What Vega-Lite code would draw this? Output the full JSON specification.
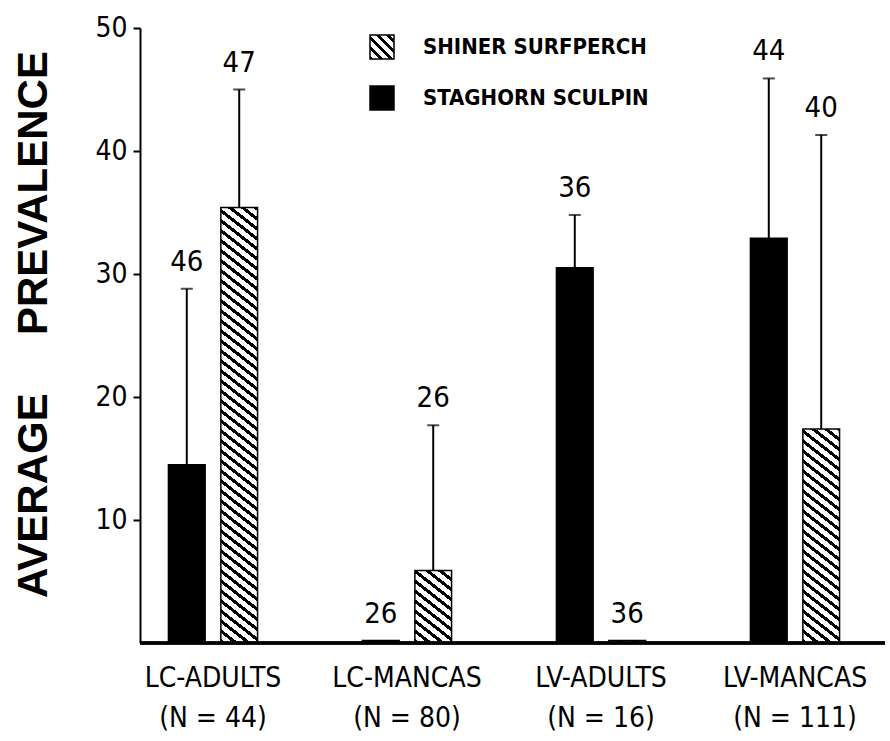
{
"$schema": "https://vega.github.io/schema/vega-lite/v6.json",
"width": 745, "height": 615, "autosize": "none",
"padding": {"left": 140, "top": 28, "right": 5, "bottom": 98},
"background": "white",
"config": {"view": {"stroke": null}},
"data": {"values": [
{"group": "LC-ADULTS|(N = 44)", "species": "STAGHORN SCULPIN", "value": 14.5, "upper": 28.8, "n": "46"},
{"group": "LC-ADULTS|(N = 44)", "species": "SHINER SURFPERCH", "value": 35.4, "upper": 45.0, "n": "47"},
{"group": "LC-MANCAS|(N = 80)", "species": "STAGHORN SCULPIN", "value": 0.2, "upper": 0.2, "n": "26"},
{"group": "LC-MANCAS|(N = 80)", "species": "SHINER SURFPERCH", "value": 5.9, "upper": 17.7, "n": "26"},
{"group": "LV-ADULTS|(N = 16)", "species": "STAGHORN SCULPIN", "value": 30.5, "upper": 34.8, "n": "36"},
{"group": "LV-ADULTS|(N = 16)", "species": "SHINER SURFPERCH", "value": 0.2, "upper": 0.2, "n": "36"},
{"group": "LV-MANCAS|(N = 111)", "species": "STAGHORN SCULPIN", "value": 32.9, "upper": 45.9, "n": "44"},
{"group": "LV-MANCAS|(N = 111)", "species": "SHINER SURFPERCH", "value": 17.4, "upper": 41.3, "n": "40"}
]},
"layer": [
{
"mark": {"type": "bar", "stroke": "#000", "strokeWidth": 1.5},
"encoding": {
"x": {"field": "group", "type": "nominal", "sort": null, "scale": {"range": [-24, 752], "paddingInner": 0, "paddingOuter": 0},
 "axis": {"title": null, "domain": false, "ticks": false, "labelAngle": 0, "labelExpr": "split(datum.label, '|')", "labelFont": "DejaVu Sans Condensed", "labelFontSize": 28, "labelLineHeight": 40, "labelPadding": 21, "labelColor": "#000"}},
"xOffset": {"field": "species", "type": "nominal", "sort": ["STAGHORN SCULPIN", "SHINER SURFPERCH"], "scale": {"paddingInner": 0.3, "paddingOuter": 1.516}},
"y": {"field": "value", "type": "quantitative", "scale": {"domain": [0, 50], "nice": false},
 "axis": {"values": [10, 20, 30, 40, 50], "title": "AVERAGE\u00a0\u00a0\u00a0\u00a0 PREVALENCE", "titleFont": "Liberation Sans", "titleFontWeight": "bold", "titleFontSize": 42, "titleAngle": -90, "titleX": -107, "titleY": 296, "titleAlign": "center", "titleBaseline": "middle", "titleColor": "#000", "titleLimit": 0, "labelFont": "DejaVu Sans Condensed", "labelFontSize": 28, "labelColor": "#000", "tickColor": "#000", "tickSize": 7, "tickWidth": 2, "labelPadding": 6, "domainColor": "#000", "domainWidth": 2, "grid": false}},
"fill": {"field": "species", "type": "nominal",
 "scale": {"domain": ["SHINER SURFPERCH", "STAGHORN SCULPIN"], "range": ["url(#gradient_2)", "#000"]},
 "legend": {"orient": "none", "legendX": 229, "legendY": 6, "title": null, "symbolType": "square", "symbolSize": 576, "symbolStrokeColor": "#000", "symbolStrokeWidth": 1.5, "labelFont": "DejaVu Sans Condensed", "labelFontSize": 22, "labelFontWeight": "bold", "labelColor": "#000", "labelLimit": 0, "labelOffset": 28, "rowPadding": 21, "padding": 0},
 "condition": [
  {"test": "datum.species === 'SHINER SURFPERCH' && datum.group === 'LC-ADULTS|(N = 44)'", "value": {"gradient": "linear", "x1": 0, "y1": 1, "x2": 0.151, "y2": -1.289, "stops": [
{"offset":0,"color":"#000"},{"offset":0.004,"color":"#000"},{"offset":0.004,"color":"#fff"},{"offset":0.01,"color":"#fff"},
{"offset":0.01,"color":"#000"},{"offset":0.014,"color":"#000"},{"offset":0.014,"color":"#fff"},{"offset":0.02,"color":"#fff"},
{"offset":0.02,"color":"#000"},{"offset":0.024,"color":"#000"},{"offset":0.024,"color":"#fff"},{"offset":0.03,"color":"#fff"},
{"offset":0.03,"color":"#000"},{"offset":0.034,"color":"#000"},{"offset":0.034,"color":"#fff"},{"offset":0.04,"color":"#fff"},
{"offset":0.04,"color":"#000"},{"offset":0.044,"color":"#000"},{"offset":0.044,"color":"#fff"},{"offset":0.05,"color":"#fff"},
{"offset":0.05,"color":"#000"},{"offset":0.054,"color":"#000"},{"offset":0.054,"color":"#fff"},{"offset":0.06,"color":"#fff"},
{"offset":0.06,"color":"#000"},{"offset":0.064,"color":"#000"},{"offset":0.064,"color":"#fff"},{"offset":0.07,"color":"#fff"},
{"offset":0.07,"color":"#000"},{"offset":0.074,"color":"#000"},{"offset":0.074,"color":"#fff"},{"offset":0.08,"color":"#fff"},
{"offset":0.08,"color":"#000"},{"offset":0.084,"color":"#000"},{"offset":0.084,"color":"#fff"},{"offset":0.09,"color":"#fff"},
{"offset":0.09,"color":"#000"},{"offset":0.094,"color":"#000"},{"offset":0.094,"color":"#fff"},{"offset":0.10,"color":"#fff"},
{"offset":0.10,"color":"#000"},{"offset":0.104,"color":"#000"},{"offset":0.104,"color":"#fff"},{"offset":0.11,"color":"#fff"},
{"offset":0.11,"color":"#000"},{"offset":0.114,"color":"#000"},{"offset":0.114,"color":"#fff"},{"offset":0.12,"color":"#fff"},
{"offset":0.12,"color":"#000"},{"offset":0.124,"color":"#000"},{"offset":0.124,"color":"#fff"},{"offset":0.13,"color":"#fff"},
{"offset":0.13,"color":"#000"},{"offset":0.134,"color":"#000"},{"offset":0.134,"color":"#fff"},{"offset":0.14,"color":"#fff"},
{"offset":0.14,"color":"#000"},{"offset":0.144,"color":"#000"},{"offset":0.144,"color":"#fff"},{"offset":0.15,"color":"#fff"},
{"offset":0.15,"color":"#000"},{"offset":0.154,"color":"#000"},{"offset":0.154,"color":"#fff"},{"offset":0.16,"color":"#fff"},
{"offset":0.16,"color":"#000"},{"offset":0.164,"color":"#000"},{"offset":0.164,"color":"#fff"},{"offset":0.17,"color":"#fff"},
{"offset":0.17,"color":"#000"},{"offset":0.174,"color":"#000"},{"offset":0.174,"color":"#fff"},{"offset":0.18,"color":"#fff"},
{"offset":0.18,"color":"#000"},{"offset":0.184,"color":"#000"},{"offset":0.184,"color":"#fff"},{"offset":0.19,"color":"#fff"},
{"offset":0.19,"color":"#000"},{"offset":0.194,"color":"#000"},{"offset":0.194,"color":"#fff"},{"offset":0.20,"color":"#fff"},
{"offset":0.20,"color":"#000"},{"offset":0.204,"color":"#000"},{"offset":0.204,"color":"#fff"},{"offset":0.21,"color":"#fff"},
{"offset":0.21,"color":"#000"},{"offset":0.214,"color":"#000"},{"offset":0.214,"color":"#fff"},{"offset":0.22,"color":"#fff"},
{"offset":0.22,"color":"#000"},{"offset":0.224,"color":"#000"},{"offset":0.224,"color":"#fff"},{"offset":0.23,"color":"#fff"},
{"offset":0.23,"color":"#000"},{"offset":0.234,"color":"#000"},{"offset":0.234,"color":"#fff"},{"offset":0.24,"color":"#fff"},
{"offset":0.24,"color":"#000"},{"offset":0.244,"color":"#000"},{"offset":0.244,"color":"#fff"},{"offset":0.25,"color":"#fff"},
{"offset":0.25,"color":"#000"},{"offset":0.254,"color":"#000"},{"offset":0.254,"color":"#fff"},{"offset":0.26,"color":"#fff"},
{"offset":0.26,"color":"#000"},{"offset":0.264,"color":"#000"},{"offset":0.264,"color":"#fff"},{"offset":0.27,"color":"#fff"},
{"offset":0.27,"color":"#000"},{"offset":0.274,"color":"#000"},{"offset":0.274,"color":"#fff"},{"offset":0.28,"color":"#fff"},
{"offset":0.28,"color":"#000"},{"offset":0.284,"color":"#000"},{"offset":0.284,"color":"#fff"},{"offset":0.29,"color":"#fff"},
{"offset":0.29,"color":"#000"},{"offset":0.294,"color":"#000"},{"offset":0.294,"color":"#fff"},{"offset":0.30,"color":"#fff"},
{"offset":0.30,"color":"#000"},{"offset":0.304,"color":"#000"},{"offset":0.304,"color":"#fff"},{"offset":0.31,"color":"#fff"},
{"offset":0.31,"color":"#000"},{"offset":0.314,"color":"#000"},{"offset":0.314,"color":"#fff"},{"offset":0.32,"color":"#fff"},
{"offset":0.32,"color":"#000"},{"offset":0.324,"color":"#000"},{"offset":0.324,"color":"#fff"},{"offset":0.33,"color":"#fff"},
{"offset":0.33,"color":"#000"},{"offset":0.334,"color":"#000"},{"offset":0.334,"color":"#fff"},{"offset":0.34,"color":"#fff"},
{"offset":0.34,"color":"#000"},{"offset":0.344,"color":"#000"},{"offset":0.344,"color":"#fff"},{"offset":0.35,"color":"#fff"},
{"offset":0.35,"color":"#000"},{"offset":0.354,"color":"#000"},{"offset":0.354,"color":"#fff"},{"offset":0.36,"color":"#fff"},
{"offset":0.36,"color":"#000"},{"offset":0.364,"color":"#000"},{"offset":0.364,"color":"#fff"},{"offset":0.37,"color":"#fff"},
{"offset":0.37,"color":"#000"},{"offset":0.374,"color":"#000"},{"offset":0.374,"color":"#fff"},{"offset":0.38,"color":"#fff"},
{"offset":0.38,"color":"#000"},{"offset":0.384,"color":"#000"},{"offset":0.384,"color":"#fff"},{"offset":0.39,"color":"#fff"},
{"offset":0.39,"color":"#000"},{"offset":0.394,"color":"#000"},{"offset":0.394,"color":"#fff"},{"offset":0.40,"color":"#fff"},
{"offset":0.40,"color":"#000"},{"offset":0.404,"color":"#000"},{"offset":0.404,"color":"#fff"},{"offset":0.41,"color":"#fff"},
{"offset":0.41,"color":"#000"},{"offset":0.414,"color":"#000"},{"offset":0.414,"color":"#fff"},{"offset":0.42,"color":"#fff"},
{"offset":0.42,"color":"#000"},{"offset":0.424,"color":"#000"},{"offset":0.424,"color":"#fff"},{"offset":0.43,"color":"#fff"},
{"offset":0.43,"color":"#000"},{"offset":0.434,"color":"#000"},{"offset":0.434,"color":"#fff"},{"offset":0.44,"color":"#fff"},
{"offset":0.44,"color":"#000"},{"offset":0.444,"color":"#000"},{"offset":0.444,"color":"#fff"},{"offset":0.45,"color":"#fff"},
{"offset":0.45,"color":"#000"},{"offset":0.454,"color":"#000"},{"offset":0.454,"color":"#fff"},{"offset":0.46,"color":"#fff"},
{"offset":0.46,"color":"#000"},{"offset":0.464,"color":"#000"},{"offset":0.464,"color":"#fff"},{"offset":0.47,"color":"#fff"}
  ]}},
  {"test": "datum.species === 'SHINER SURFPERCH' && datum.group === 'LC-MANCAS|(N = 80)'", "value": {"gradient": "linear", "x1": 0, "y1": 1, "x2": 4.709, "y2": -10.911, "stops": [
{"offset":0,"color":"#000"},{"offset":0.004,"color":"#000"},{"offset":0.004,"color":"#fff"},{"offset":0.01,"color":"#fff"},
{"offset":0.01,"color":"#000"},{"offset":0.014,"color":"#000"},{"offset":0.014,"color":"#fff"},{"offset":0.02,"color":"#fff"},
{"offset":0.02,"color":"#000"},{"offset":0.024,"color":"#000"},{"offset":0.024,"color":"#fff"},{"offset":0.03,"color":"#fff"},
{"offset":0.03,"color":"#000"},{"offset":0.034,"color":"#000"},{"offset":0.034,"color":"#fff"},{"offset":0.04,"color":"#fff"},
{"offset":0.04,"color":"#000"},{"offset":0.044,"color":"#000"},{"offset":0.044,"color":"#fff"},{"offset":0.05,"color":"#fff"},
{"offset":0.05,"color":"#000"},{"offset":0.054,"color":"#000"},{"offset":0.054,"color":"#fff"},{"offset":0.06,"color":"#fff"},
{"offset":0.06,"color":"#000"},{"offset":0.064,"color":"#000"},{"offset":0.064,"color":"#fff"},{"offset":0.07,"color":"#fff"},
{"offset":0.07,"color":"#000"},{"offset":0.074,"color":"#000"},{"offset":0.074,"color":"#fff"},{"offset":0.08,"color":"#fff"},
{"offset":0.08,"color":"#000"},{"offset":0.084,"color":"#000"},{"offset":0.084,"color":"#fff"},{"offset":0.09,"color":"#fff"},
{"offset":0.09,"color":"#000"},{"offset":0.094,"color":"#000"},{"offset":0.094,"color":"#fff"},{"offset":0.10,"color":"#fff"},
{"offset":0.10,"color":"#000"},{"offset":0.104,"color":"#000"},{"offset":0.104,"color":"#fff"},{"offset":0.11,"color":"#fff"}
  ]}},
  {"test": "datum.species === 'SHINER SURFPERCH' && datum.group === 'LV-ADULTS|(N = 16)'", "value": {"gradient": "linear", "x1": 0, "y1": 1, "x2": 20.83, "y2": -19.83, "stops": [
{"offset":0,"color":"#000"},{"offset":0.004,"color":"#000"},{"offset":0.004,"color":"#fff"},{"offset":0.01,"color":"#fff"},
{"offset":0.01,"color":"#000"},{"offset":0.014,"color":"#000"},{"offset":0.014,"color":"#fff"},{"offset":0.02,"color":"#fff"},
{"offset":0.02,"color":"#000"},{"offset":0.024,"color":"#000"},{"offset":0.024,"color":"#fff"},{"offset":0.03,"color":"#fff"},
{"offset":0.03,"color":"#000"},{"offset":0.034,"color":"#000"},{"offset":0.034,"color":"#fff"},{"offset":0.04,"color":"#fff"},
{"offset":0.04,"color":"#000"},{"offset":0.044,"color":"#000"},{"offset":0.044,"color":"#fff"},{"offset":0.05,"color":"#fff"},
{"offset":0.05,"color":"#000"},{"offset":0.054,"color":"#000"},{"offset":0.054,"color":"#fff"},{"offset":0.06,"color":"#fff"}
  ]}},
  {"test": "datum.species === 'SHINER SURFPERCH' && datum.group === 'LV-MANCAS|(N = 111)'", "value": {"gradient": "linear", "x1": 0, "y1": 1, "x2": 0.616, "y2": -3.590, "stops": [
{"offset":0,"color":"#000"},{"offset":0.004,"color":"#000"},{"offset":0.004,"color":"#fff"},{"offset":0.01,"color":"#fff"},
{"offset":0.01,"color":"#000"},{"offset":0.014,"color":"#000"},{"offset":0.014,"color":"#fff"},{"offset":0.02,"color":"#fff"},
{"offset":0.02,"color":"#000"},{"offset":0.024,"color":"#000"},{"offset":0.024,"color":"#fff"},{"offset":0.03,"color":"#fff"},
{"offset":0.03,"color":"#000"},{"offset":0.034,"color":"#000"},{"offset":0.034,"color":"#fff"},{"offset":0.04,"color":"#fff"},
{"offset":0.04,"color":"#000"},{"offset":0.044,"color":"#000"},{"offset":0.044,"color":"#fff"},{"offset":0.05,"color":"#fff"},
{"offset":0.05,"color":"#000"},{"offset":0.054,"color":"#000"},{"offset":0.054,"color":"#fff"},{"offset":0.06,"color":"#fff"},
{"offset":0.06,"color":"#000"},{"offset":0.064,"color":"#000"},{"offset":0.064,"color":"#fff"},{"offset":0.07,"color":"#fff"},
{"offset":0.07,"color":"#000"},{"offset":0.074,"color":"#000"},{"offset":0.074,"color":"#fff"},{"offset":0.08,"color":"#fff"},
{"offset":0.08,"color":"#000"},{"offset":0.084,"color":"#000"},{"offset":0.084,"color":"#fff"},{"offset":0.09,"color":"#fff"},
{"offset":0.09,"color":"#000"},{"offset":0.094,"color":"#000"},{"offset":0.094,"color":"#fff"},{"offset":0.10,"color":"#fff"},
{"offset":0.10,"color":"#000"},{"offset":0.104,"color":"#000"},{"offset":0.104,"color":"#fff"},{"offset":0.11,"color":"#fff"},
{"offset":0.11,"color":"#000"},{"offset":0.114,"color":"#000"},{"offset":0.114,"color":"#fff"},{"offset":0.12,"color":"#fff"},
{"offset":0.12,"color":"#000"},{"offset":0.124,"color":"#000"},{"offset":0.124,"color":"#fff"},{"offset":0.13,"color":"#fff"},
{"offset":0.13,"color":"#000"},{"offset":0.134,"color":"#000"},{"offset":0.134,"color":"#fff"},{"offset":0.14,"color":"#fff"},
{"offset":0.14,"color":"#000"},{"offset":0.144,"color":"#000"},{"offset":0.144,"color":"#fff"},{"offset":0.15,"color":"#fff"},
{"offset":0.15,"color":"#000"},{"offset":0.154,"color":"#000"},{"offset":0.154,"color":"#fff"},{"offset":0.16,"color":"#fff"},
{"offset":0.16,"color":"#000"},{"offset":0.164,"color":"#000"},{"offset":0.164,"color":"#fff"},{"offset":0.17,"color":"#fff"},
{"offset":0.17,"color":"#000"},{"offset":0.174,"color":"#000"},{"offset":0.174,"color":"#fff"},{"offset":0.18,"color":"#fff"},
{"offset":0.18,"color":"#000"},{"offset":0.184,"color":"#000"},{"offset":0.184,"color":"#fff"},{"offset":0.19,"color":"#fff"},
{"offset":0.19,"color":"#000"},{"offset":0.194,"color":"#000"},{"offset":0.194,"color":"#fff"},{"offset":0.20,"color":"#fff"},
{"offset":0.20,"color":"#000"},{"offset":0.204,"color":"#000"},{"offset":0.204,"color":"#fff"},{"offset":0.21,"color":"#fff"},
{"offset":0.21,"color":"#000"},{"offset":0.214,"color":"#000"},{"offset":0.214,"color":"#fff"},{"offset":0.22,"color":"#fff"},
{"offset":0.22,"color":"#000"},{"offset":0.224,"color":"#000"},{"offset":0.224,"color":"#fff"},{"offset":0.23,"color":"#fff"},
{"offset":0.23,"color":"#000"},{"offset":0.234,"color":"#000"},{"offset":0.234,"color":"#fff"},{"offset":0.24,"color":"#fff"},
{"offset":0.24,"color":"#000"},{"offset":0.244,"color":"#000"},{"offset":0.244,"color":"#fff"},{"offset":0.25,"color":"#fff"}
  ]}}
 ]}
}
},
{
"transform": [{"filter": "datum.upper > datum.value"}],
"mark": {"type": "rule", "color": "#000", "strokeWidth": 2},
"encoding": {
"x": {"field": "group", "type": "nominal", "sort": null},
"xOffset": {"field": "species", "type": "nominal", "sort": ["STAGHORN SCULPIN", "SHINER SURFPERCH"], "scale": {"paddingInner": 0.3, "paddingOuter": 1.516}},
"y": {"field": "value", "type": "quantitative", "title": "AVERAGE\u00a0\u00a0\u00a0\u00a0 PREVALENCE"},
"y2": {"field": "upper"}
}
},
{
"transform": [{"filter": "datum.upper > datum.value"}],
"mark": {"type": "tick", "color": "#000", "thickness": 2, "size": 12, "orient": "horizontal"},
"encoding": {
"x": {"field": "group", "type": "nominal", "sort": null},
"xOffset": {"field": "species", "type": "nominal", "sort": ["STAGHORN SCULPIN", "SHINER SURFPERCH"], "scale": {"paddingInner": 0.3, "paddingOuter": 1.516}},
"y": {"field": "upper", "type": "quantitative", "title": "AVERAGE\u00a0\u00a0\u00a0\u00a0 PREVALENCE"}
}
},
{
"mark": {"type": "text", "dy": -27, "fontSize": 29, "font": "DejaVu Sans Condensed", "baseline": "middle", "align": "center", "color": "#000"},
"encoding": {
"x": {"field": "group", "type": "nominal", "sort": null},
"xOffset": {"field": "species", "type": "nominal", "sort": ["STAGHORN SCULPIN", "SHINER SURFPERCH"], "scale": {"paddingInner": 0.3, "paddingOuter": 1.516}},
"y": {"field": "upper", "type": "quantitative", "title": "AVERAGE\u00a0\u00a0\u00a0\u00a0 PREVALENCE"},
"text": {"field": "n"}
}
},
{
"mark": {"type": "rule", "color": "#000", "strokeWidth": 2.5},
"encoding": {"y": {"datum": 0, "type": "quantitative"}}
}
]
}
